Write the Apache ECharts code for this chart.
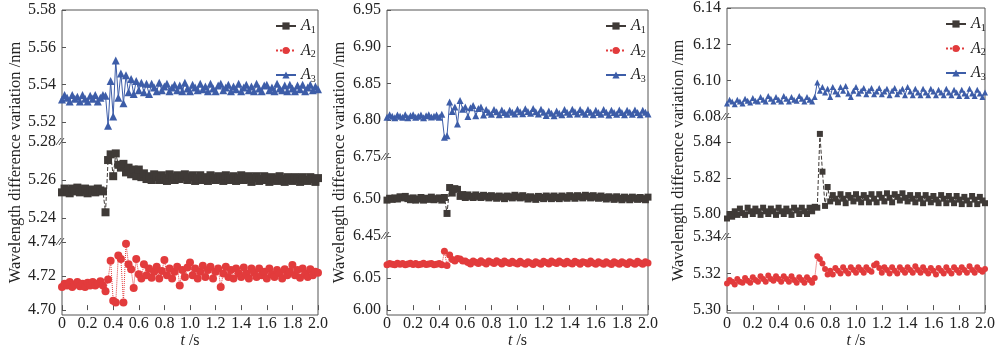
<!DOCTYPE html>
<html>
<head>
<meta charset="utf-8">
<script src="https://cdn.jsdelivr.net/npm/echarts@6/dist/echarts.min.js"></script>
<style>
  html, body { margin: 0; padding: 0; background: #fff; }
  #chart { width: 1000px; height: 350px; }
</style>
</head>
<body>
<div id="chart"></div>
<script>
// --- colours / fonts ---
const COLORS = {
  a1: '#3f3a37',
  a2: '#e23b3c',
  a3: '#3d5da8',
  axis: '#555',
  text: '#222'
};
const FONT = '"Liberation Serif", "DejaVu Serif", serif';

// samples every 0.02 s, t = 0 ... 2.0 s
const STEP = 0.02;
const xRange = [0, 2, 0.2];
const legendNames = ['A1', 'A2', 'A3'];

// ---------- panel (a) ----------
const a3 = [
  5.532, 5.5345, 5.533, 5.531, 5.5345, 5.5325, 5.5335, 5.531, 5.5345, 5.5325,
  5.531, 5.534, 5.5325, 5.5345, 5.531, 5.533, 5.5345,
  // disturbance
  5.534, 5.518, 5.542, 5.523, 5.553, 5.533, 5.546, 5.530, 5.545, 5.536,
  5.543, 5.535, 5.542, 5.537, 5.541, 5.536, 5.5405, 5.535,
  // settled
  5.5405, 5.5385, 5.5365, 5.541, 5.537, 5.539, 5.5405, 5.5365, 5.5385, 5.540,
  5.537, 5.5395, 5.5365, 5.541, 5.538, 5.5365, 5.540, 5.5385, 5.537, 5.5405,
  5.5375, 5.539, 5.5365, 5.5405, 5.538, 5.5365, 5.5395, 5.5405, 5.537, 5.5385,
  5.540, 5.5365, 5.539, 5.5375, 5.5405, 5.5365, 5.5385, 5.540, 5.537, 5.539,
  5.5365, 5.5405, 5.538, 5.5365, 5.5395, 5.540, 5.537, 5.5385, 5.5365, 5.5405,
  5.538, 5.537, 5.5395, 5.5365, 5.540, 5.538, 5.5365, 5.5395, 5.5375, 5.540,
  5.5365, 5.5385, 5.540, 5.537, 5.539, 5.5375
];
const a1 = [
  5.2535, 5.2555, 5.2545, 5.253, 5.2555, 5.254, 5.256, 5.2535, 5.2545, 5.2555,
  5.253, 5.255, 5.254, 5.2535, 5.2555, 5.2545, 5.254,
  5.243, 5.2705, 5.2735, 5.262, 5.274, 5.268, 5.2665, 5.2685, 5.264, 5.2665,
  5.263, 5.2655, 5.262, 5.2655,
  5.2615, 5.2635, 5.2605, 5.262, 5.260, 5.263, 5.2615, 5.260, 5.2625, 5.261,
  5.2595, 5.263, 5.2615, 5.260, 5.2625, 5.2605, 5.2615, 5.263, 5.260, 5.2615,
  5.2625, 5.2595, 5.261, 5.2625, 5.260, 5.2615, 5.2595, 5.2625, 5.261, 5.260,
  5.262, 5.2605, 5.2595, 5.2625, 5.261, 5.260, 5.262, 5.2595, 5.261, 5.2625,
  5.260, 5.2605, 5.262, 5.259, 5.261, 5.262, 5.2595, 5.2605, 5.262, 5.260,
  5.259, 5.2615, 5.2605, 5.2595, 5.262, 5.2605, 5.259, 5.2615, 5.260, 5.2595,
  5.2615, 5.2605, 5.259, 5.2615, 5.260, 5.2595, 5.2615, 5.2605, 5.259, 5.261
];
const a2 = [
  4.7135, 4.7155, 4.7145, 4.7165, 4.7135, 4.715, 4.7165, 4.714, 4.7155, 4.7135,
  4.716, 4.7145, 4.7165, 4.7145, 4.7155, 4.717, 4.7145,
  4.711, 4.718, 4.729, 4.7055, 4.7045, 4.732, 4.730, 4.7045, 4.739, 4.727,
  4.724, 4.713, 4.730,
  4.721, 4.7185, 4.727, 4.7205, 4.7245, 4.719, 4.7225, 4.7255, 4.7185, 4.723,
  4.7295, 4.7205, 4.7245, 4.7185, 4.7225, 4.7255, 4.7145, 4.7235, 4.7195, 4.725,
  4.728, 4.7205, 4.7245, 4.7185, 4.7225, 4.726, 4.7195, 4.7235, 4.7255, 4.7185,
  4.7225, 4.7245, 4.7135, 4.7215, 4.7255, 4.7195, 4.7235, 4.7185, 4.7245, 4.7215,
  4.7195, 4.725, 4.7215, 4.7185, 4.7245, 4.722, 4.7195, 4.7245, 4.7205, 4.7225,
  4.7185, 4.7245, 4.721, 4.7195, 4.7235, 4.7215, 4.7185, 4.724, 4.7205, 4.7225,
  4.7265, 4.7205, 4.7235, 4.719, 4.7245, 4.7215, 4.7195, 4.724, 4.7205, 4.7225,
  4.722
];
// y ranges [min, max, interval] for top / middle / bottom pieces
const yRangeA = [[5.52, 5.58, 0.02], [5.24, 5.28, 0.02], [4.70, 4.74, 0.02]];

// ---------- panel (b) ----------
const b3 = [
  6.804, 6.8075, 6.8055, 6.8035, 6.807, 6.8055, 6.804, 6.8075, 6.8035, 6.806,
  6.8075, 6.804, 6.8055, 6.807, 6.8035, 6.806, 6.8075, 6.8045, 6.8055, 6.807,
  6.804, 6.808,
  6.777, 6.779, 6.825, 6.812, 6.818, 6.795, 6.827, 6.815, 6.818, 6.805,
  6.817, 6.820, 6.806, 6.816, 6.818, 6.807,
  6.8145, 6.811, 6.808, 6.8145, 6.8115, 6.8075, 6.814, 6.8105, 6.808, 6.8135,
  6.811, 6.8085, 6.815, 6.8115, 6.809, 6.8155, 6.812, 6.8095, 6.816, 6.8115,
  6.8085, 6.815, 6.811, 6.8065, 6.8125, 6.8095, 6.806, 6.8125, 6.8095, 6.8075,
  6.8145, 6.811, 6.808, 6.815, 6.8115, 6.8085, 6.8145, 6.811, 6.808, 6.8145,
  6.811, 6.8075, 6.8135, 6.8105, 6.808, 6.8145, 6.811, 6.807, 6.8135, 6.8105,
  6.808, 6.814, 6.8105, 6.8075, 6.8135, 6.811, 6.808, 6.814, 6.8105, 6.8075,
  6.8135, 6.811, 6.8085
];
const b1 = [
  6.4985, 6.501, 6.4995, 6.5015, 6.500, 6.503, 6.5015, 6.5035, 6.5005, 6.499,
  6.5015, 6.4985, 6.500, 6.502, 6.4985, 6.501, 6.4995, 6.5025, 6.499, 6.5005,
  6.5015, 6.4985,
  6.502, 6.4805, 6.5155, 6.508, 6.514, 6.513, 6.5035, 6.506,
  6.502, 6.5055, 6.5035, 6.502, 6.5055, 6.5035, 6.502, 6.505, 6.5035, 6.5015,
  6.5045, 6.503, 6.501, 6.504, 6.5025, 6.5005, 6.504, 6.503, 6.5015, 6.505,
  6.503, 6.5015, 6.5045, 6.5025, 6.500, 6.503, 6.5015, 6.4995, 6.5035, 6.502,
  6.5005, 6.504, 6.5025, 6.5005, 6.504, 6.502, 6.5005, 6.504, 6.5025, 6.501,
  6.5045, 6.503, 6.501, 6.5045, 6.503, 6.5015, 6.505, 6.5035, 6.5015, 6.5045,
  6.5025, 6.501, 6.504, 6.502, 6.500, 6.503, 6.5015, 6.4995, 6.503, 6.501,
  6.499, 6.5025, 6.501, 6.499, 6.5025, 6.501, 6.4995, 6.502, 6.5005, 6.499,
  6.5025
];
const b2 = [
  6.0705, 6.0725, 6.0715, 6.0705, 6.073, 6.0715, 6.0725, 6.0705, 6.072, 6.073,
  6.071, 6.0725, 6.0705, 6.0715, 6.073, 6.071, 6.072, 6.0725, 6.0705, 6.0715,
  6.0725, 6.0705,
  6.0915, 6.0695, 6.086, 6.079, 6.0765, 6.0805, 6.0795, 6.0765,
  6.0765, 6.074, 6.072, 6.0765, 6.0745, 6.0725, 6.077, 6.074, 6.072, 6.0765,
  6.0745, 6.0725, 6.077, 6.0745, 6.072, 6.0765, 6.074, 6.0725, 6.076, 6.0735,
  6.072, 6.076, 6.0735, 6.0715, 6.0755, 6.0735, 6.071, 6.0755, 6.0735, 6.0715,
  6.076, 6.074, 6.072, 6.0765, 6.074, 6.0725, 6.0765, 6.074, 6.072, 6.076,
  6.0735, 6.072, 6.076, 6.074, 6.0715, 6.0755, 6.074, 6.072, 6.0765, 6.0735,
  6.0715, 6.0755, 6.0735, 6.0715, 6.0755, 6.073, 6.071, 6.0755, 6.0735, 6.0715,
  6.0755, 6.0735, 6.071, 6.0755, 6.0735, 6.0715, 6.076, 6.0735, 6.0715, 6.0755,
  6.0735
];
const yRangeB = [[6.75, 6.95, 0.05], [6.45, 6.50, 0.05], [6.00, 6.05, 0.05]];

// ---------- panel (c) ----------
const c3 = [
  6.0875, 6.0895, 6.0885, 6.087, 6.0895, 6.0885, 6.0875, 6.090, 6.089, 6.088,
  6.0905, 6.089, 6.0885, 6.091, 6.0895, 6.0885, 6.0915, 6.090, 6.0885, 6.091,
  6.0895, 6.0885, 6.0915, 6.090, 6.0885, 6.091, 6.0895, 6.089, 6.0915, 6.090,
  6.0885, 6.091, 6.0895, 6.0885, 6.091,
  6.099, 6.0945, 6.0965, 6.0935, 6.0955, 6.091,
  6.0965, 6.094, 6.0925, 6.0965, 6.0945, 6.097, 6.093, 6.091, 6.0945, 6.0965,
  6.093, 6.0945, 6.096, 6.0925, 6.0945, 6.096, 6.0925, 6.094, 6.096, 6.0925,
  6.094, 6.0955, 6.092, 6.0945, 6.096, 6.0925, 6.094, 6.0955, 6.092, 6.0965,
  6.094, 6.092, 6.0955, 6.0935, 6.092, 6.0955, 6.0935, 6.092, 6.0955, 6.094,
  6.092, 6.095, 6.0935, 6.092, 6.0955, 6.0935, 6.092, 6.095, 6.0935, 6.0915,
  6.095, 6.093, 6.0915, 6.0955, 6.093, 6.0915, 6.095, 6.093, 6.091, 6.0935
];
const c1 = [
  5.7975, 5.800, 5.7985, 5.8015, 5.7995, 5.803, 5.8005, 5.7995, 5.8035, 5.8015,
  5.800, 5.803, 5.8015, 5.7995, 5.8035, 5.8015, 5.800, 5.803, 5.8015, 5.7995,
  5.8035, 5.8015, 5.800, 5.803, 5.8015, 5.7995, 5.8035, 5.802, 5.800, 5.8035,
  5.8015, 5.800, 5.8035, 5.8015,
  5.804, 5.8035, 5.8445, 5.8235, 5.8045, 5.815, 5.807,
  5.8105, 5.8085, 5.8065, 5.811, 5.8085, 5.806, 5.8105, 5.809, 5.807, 5.811,
  5.8085, 5.8065, 5.8105, 5.809, 5.8065, 5.811, 5.8085, 5.8065, 5.811, 5.809,
  5.807, 5.8115, 5.809, 5.8065, 5.811, 5.8095, 5.8075, 5.8115, 5.809, 5.807,
  5.8105, 5.8085, 5.8065, 5.8105, 5.8085, 5.806, 5.8105, 5.8085, 5.8065, 5.810,
  5.808, 5.806, 5.8105, 5.8085, 5.806, 5.810, 5.808, 5.806, 5.810, 5.808,
  5.8055, 5.8095, 5.8075, 5.8055, 5.810, 5.808, 5.8055, 5.8095, 5.8075, 5.806
];
const c2 = [
  5.3145, 5.3165, 5.3155, 5.314, 5.317, 5.3155, 5.315, 5.3175, 5.316, 5.315,
  5.318, 5.3165, 5.3155, 5.3185, 5.317, 5.3155, 5.319, 5.317, 5.316, 5.3185,
  5.317, 5.3155, 5.3185, 5.317, 5.3155, 5.3185, 5.3165, 5.315, 5.318, 5.3165,
  5.315, 5.318, 5.3165, 5.315, 5.3175,
  5.3295, 5.328, 5.3255, 5.3225, 5.3195, 5.3215,
  5.3195, 5.323, 5.3215, 5.320, 5.3235, 5.3215, 5.320, 5.3235, 5.322, 5.3205,
  5.3235, 5.322, 5.3205, 5.3235, 5.322, 5.321, 5.3245, 5.3255, 5.323, 5.3205,
  5.3235, 5.322, 5.320, 5.3235, 5.3215, 5.320, 5.3235, 5.322, 5.3205, 5.3235,
  5.322, 5.3205, 5.324, 5.322, 5.3205, 5.3235, 5.3215, 5.320, 5.323, 5.3215,
  5.3195, 5.323, 5.3215, 5.320, 5.3235, 5.3215, 5.320, 5.3235, 5.322, 5.3205,
  5.3235, 5.322, 5.3205, 5.324, 5.322, 5.3205, 5.3235, 5.322, 5.321, 5.3225
];
const yRangeC = [[6.08, 6.14, 0.02], [5.80, 5.84, 0.02], [5.30, 5.34, 0.02]];

// --- layout of the three panels (pixels) ---
// bands: top/bottom of each axis piece; breaks: y of the "//" marks
const panels = [
  { left: 62, width: 256, top: 10, bottom: 315,
    bands: [[10, 122], [142, 218], [242, 315]], breaks: [142, 242],
    ranges: yRangeA, values: [a3, a1, a2], symbolSize: 8,
    legendLeft: 270, legendTop: 13, nameGap: 38 },
  { left: 387, width: 261, top: 10, bottom: 315,
    bands: [[10, 157], [199, 236], [278, 315]], breaks: [157, 236],
    ranges: yRangeB, values: [b3, b1, b2], symbolSize: 7,
    legendLeft: 600, legendTop: 13, nameGap: 39 },
  { left: 727, width: 258, top: 8, bottom: 313,
    bands: [[8, 117], [142, 214], [237, 313]], breaks: [117, 237],
    ranges: yRangeC, values: [c3, c1, c2], symbolSize: 6,
    legendLeft: 940, legendTop: 11, nameGap: 40 }
];

// series look for each axis piece (top -> A3, middle -> A1, bottom -> A2)
const LOOK = [
  { name: 'A3', symbol: 'triangle', color: COLORS.a3, line: 'solid' },
  { name: 'A1', symbol: 'rect', color: COLORS.a1, line: 'dashed' },
  { name: 'A2', symbol: 'circle', color: COLORS.a2, line: 'dotted' }
];

const grid = [], xAxis = [], yAxis = [], series = [], legend = [], graphic = [];

panels.forEach((p) => {
  // outer frame + y axis title
  const fi = grid.length;
  grid.push({
    left: p.left, top: p.top, width: p.width, height: p.bottom - p.top,
    show: true, borderColor: COLORS.axis, borderWidth: 1, backgroundColor: 'transparent'
  });
  xAxis.push({ gridIndex: fi, type: 'value', min: 0, max: 2, show: false });
  yAxis.push({
    gridIndex: fi, type: 'value', min: 0, max: 1,
    axisLine: { show: false }, axisTick: { show: false },
    axisLabel: { show: false }, splitLine: { show: false },
    name: 'Wavelength difference variation /nm',
    nameLocation: 'middle', nameGap: p.nameGap,
    nameTextStyle: { fontFamily: FONT, fontSize: 16.5, color: COLORS.text }
  });

  p.bands.forEach((b, bi) => {
    const gi = grid.length;
    const isLast = bi === p.bands.length - 1;
    const r = p.ranges[bi];
    const look = LOOK[bi];
    grid.push({ left: p.left, top: b[0], width: p.width, height: b[1] - b[0] });

    xAxis.push({
      gridIndex: gi, type: 'value',
      min: xRange[0], max: xRange[1], interval: xRange[2],
      show: isLast,
      axisLine: { show: false },
      axisTick: { show: true, inside: true, length: 5, lineStyle: { color: COLORS.axis } },
      axisLabel: {
        margin: 6, fontFamily: FONT, fontSize: 16, color: COLORS.text,
        formatter: (v) => (v === 0 ? '0' : v.toFixed(1))
      },
      splitLine: { show: false },
      name: isLast ? '{i|t} /s' : '',
      nameLocation: 'middle', nameGap: 20,
      nameTextStyle: {
        fontFamily: FONT, fontSize: 16, color: COLORS.text,
        rich: { i: { fontFamily: FONT, fontSize: 16, fontStyle: 'italic', color: COLORS.text } }
      }
    });

    yAxis.push({
      gridIndex: gi, type: 'value', min: r[0], max: r[1], interval: r[2],
      axisLine: { show: false },
      axisTick: { show: true, inside: true, length: 4, lineStyle: { color: COLORS.axis } },
      axisLabel: {
        margin: 6, fontFamily: FONT, fontSize: 16, color: COLORS.text,
        formatter: (v) => v.toFixed(2)
      },
      splitLine: { show: false }
    });

    series.push({
      name: look.name,
      type: 'line',
      xAxisIndex: gi, yAxisIndex: gi,
      data: p.values[bi].map((v, i) => [+(i * STEP).toFixed(2), v]),
      clip: false,
      symbol: look.symbol,
      symbolSize: p.symbolSize,
      showAllSymbol: true,
      lineStyle: { color: look.color, width: 1, type: look.line },
      itemStyle: { color: look.color },
      emphasis: { disabled: true }
    });
  });

  legend.push({
    orient: 'vertical',
    left: p.legendLeft, top: p.legendTop,
    itemWidth: 20, itemHeight: 9, itemGap: 7.5,
    selectedMode: false,
    data: legendNames,
    formatter: (n) => '{a|' + n.charAt(0) + '}{b|' + n.slice(1) + '}',
    textStyle: {
      color: COLORS.text,
      rich: {
        a: { fontFamily: FONT, fontSize: 16, fontStyle: 'italic', color: COLORS.text, lineHeight: 18 },
        b: { fontFamily: FONT, fontSize: 10, color: COLORS.text, verticalAlign: 'bottom', lineHeight: 10 }
      }
    }
  });

  // axis-break marks "//" on the left axis
  p.breaks.forEach((y) => {
    [-6, -3].forEach((dx) => {
      graphic.push({
        type: 'line', z: 100, silent: true,
        shape: { x1: p.left + dx, y1: y + 3, x2: p.left + dx + 5, y2: y - 4 },
        style: { stroke: COLORS.axis, lineWidth: 1 }
      });
    });
  });
});

const chart = echarts.init(document.getElementById('chart'));
chart.setOption({
  animation: false,
  backgroundColor: '#fff',
  grid, xAxis, yAxis, series, legend, graphic
});
</script>
</body>
</html>
